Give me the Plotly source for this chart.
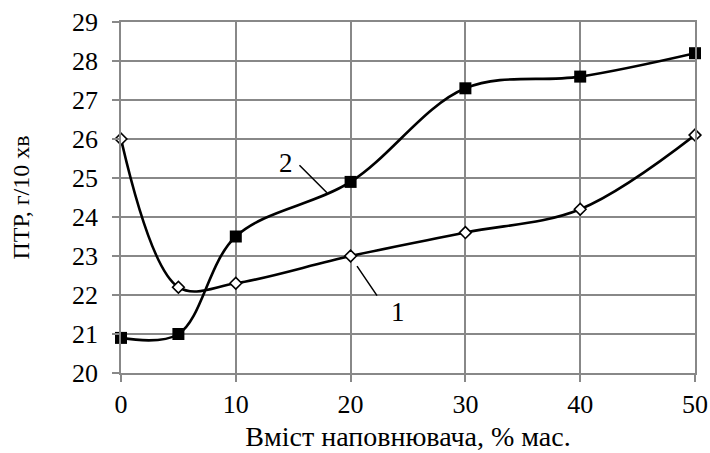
import plotly.graph_objects as go

x_vals = [0, 5, 10, 20, 30, 40, 50]
series1 = [26.0, 22.2, 22.3, 23.0, 23.6, 24.2, 26.1]
series2 = [20.9, 21.0, 23.5, 24.9, 27.3, 27.6, 28.2]
x_ticks = [0, 10, 20, 30, 40, 50]
y_ticks = [20, 21, 22, 23, 24, 25, 26, 27, 28, 29]

FONT = "Liberation Serif, Times New Roman, serif"
GRID = "#888888"

fig = go.Figure()
fig.add_trace(go.Scatter(
    x=x_vals, y=series1, mode="lines+markers",
    line=dict(color="black", width=2.6, shape="spline", smoothing=1.0),
    marker=dict(symbol="diamond", size=9, color="white", line=dict(color="black", width=1.6)),
    showlegend=False, cliponaxis=False,
))
fig.add_trace(go.Scatter(
    x=x_vals, y=series2, mode="lines+markers",
    line=dict(color="black", width=2.6, shape="spline", smoothing=1.0),
    marker=dict(symbol="square", size=12, color="black"),
    showlegend=False, cliponaxis=False,
))

# leader-line labels
fig.add_annotation(x=20.56, y=22.74, ax=21, ay=31, axref="pixel", ayref="pixel",
                   text="", showarrow=True, arrowhead=0, arrowwidth=1.5, arrowcolor="black")
fig.add_annotation(x=24.13, y=21.56, text="1", showarrow=False,
                   font=dict(family=FONT, size=27, color="black"))
fig.add_annotation(x=17.94, y=24.62, ax=-29, ay=-29, axref="pixel", ayref="pixel",
                   text="", showarrow=True, arrowhead=0, arrowwidth=1.5, arrowcolor="black")
fig.add_annotation(x=14.37, y=25.38, text="2", showarrow=False,
                   font=dict(family=FONT, size=27, color="black"))

fig.update_xaxes(
    range=[0, 50], tickvals=x_ticks, showgrid=True, gridcolor=GRID, gridwidth=1.5,
    ticks="outside", ticklen=7, tickcolor=GRID, tickwidth=1.5,
    showline=True, linecolor=GRID, linewidth=1.5, mirror=True,
    zeroline=False, automargin=False,
    tickfont=dict(family=FONT, size=26, color="black"),
    title=dict(text="Вміст наповнювача, % мас.", font=dict(family=FONT, size=28, color="black"), standoff=8),
)
fig.update_yaxes(
    range=[20, 29], tickvals=y_ticks, showgrid=True, gridcolor=GRID, gridwidth=1.5,
    ticks="outside", ticklen=7, tickcolor=GRID, tickwidth=1.5, ticklabelstandoff=9,
    showline=True, linecolor=GRID, linewidth=1.5, mirror=True,
    zeroline=False, automargin=False,
    tickfont=dict(family=FONT, size=26, color="black"),
    title=dict(text="ПТР, г/10 хв", font=dict(family=FONT, size=24, color="black"), standoff=36),
)
fig.update_layout(
    width=710, height=453,
    margin=dict(l=121, r=15, t=22, b=80, autoexpand=False),
    plot_bgcolor="white", paper_bgcolor="white",
)
fig.write_html("out.html", config={"displayModeBar": False},
               post_script="document.body.style.margin='0';document.body.style.overflow='hidden';")
